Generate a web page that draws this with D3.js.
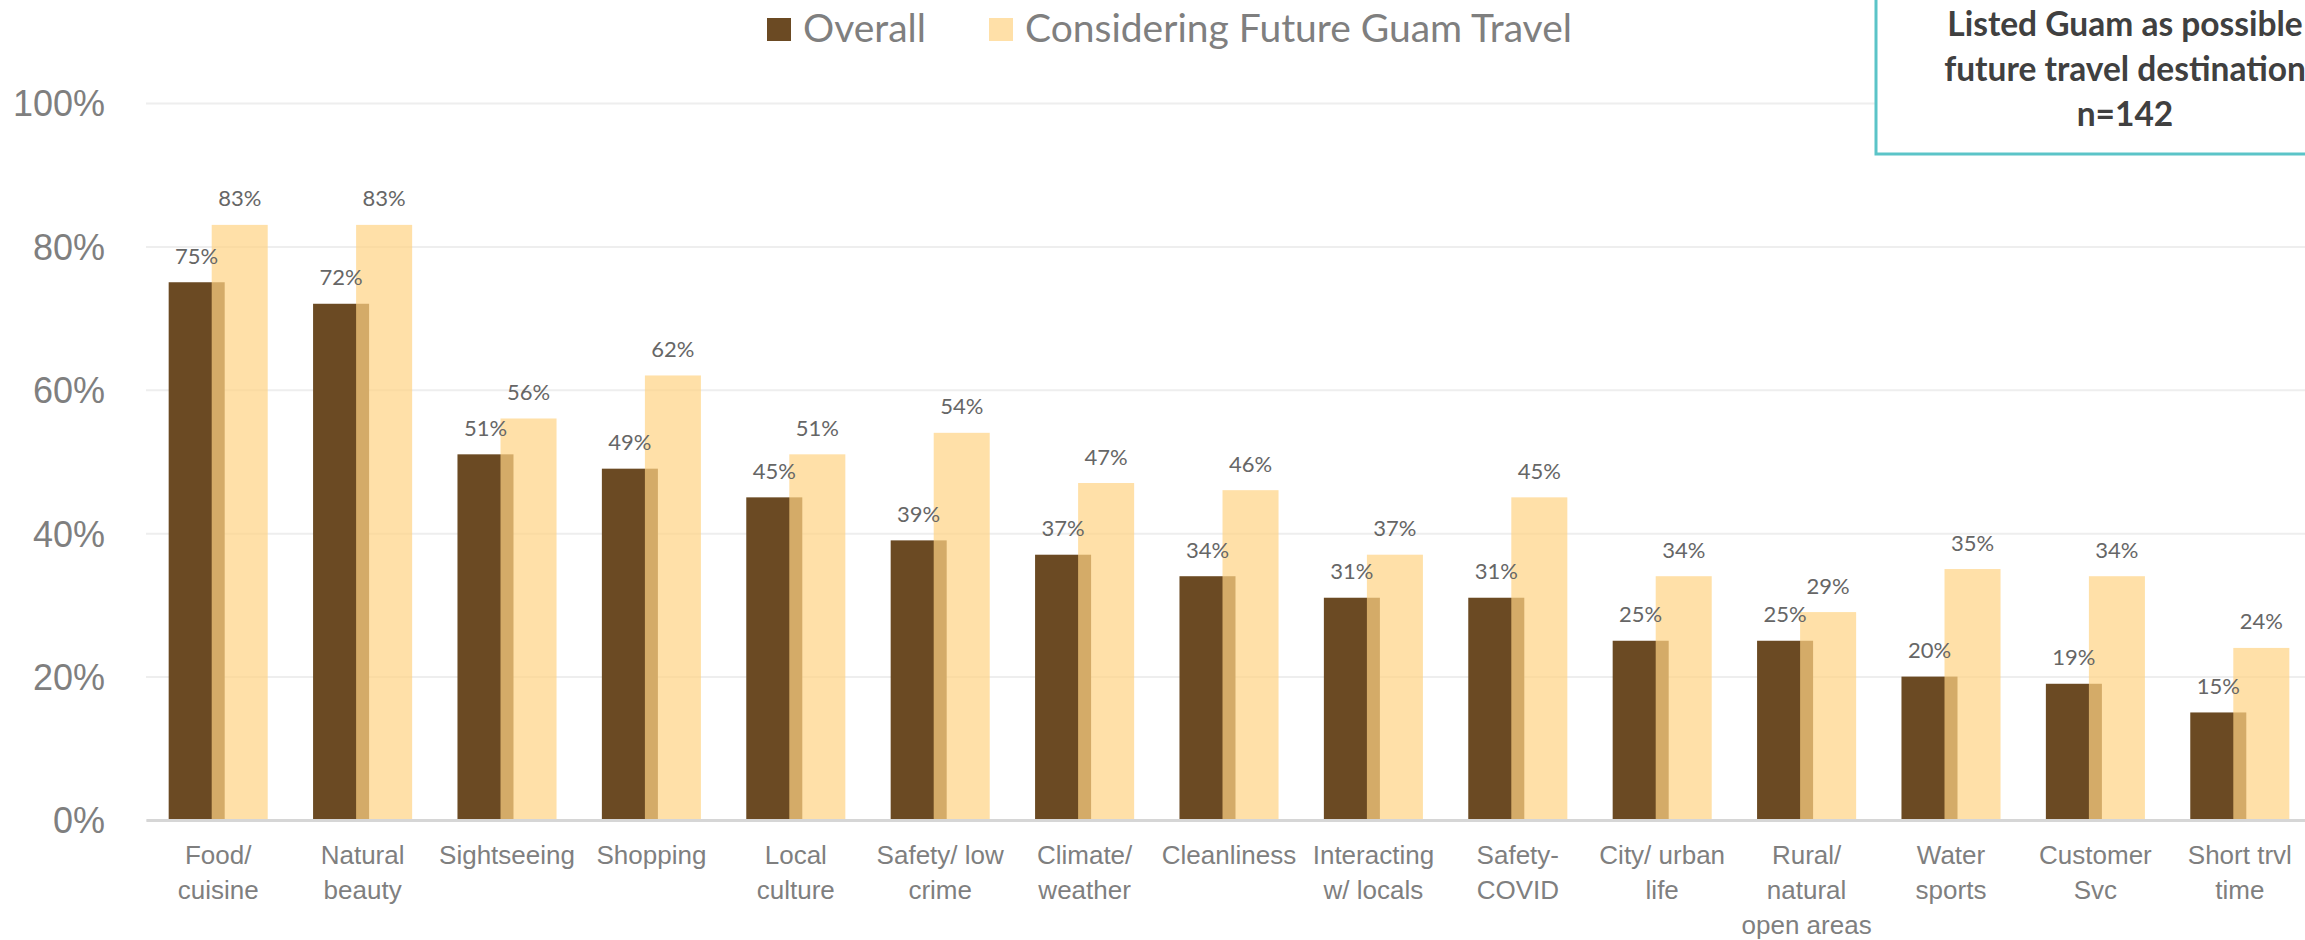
<!DOCTYPE html>
<html>
<head>
<meta charset="utf-8">
<script src="https://cdn.jsdelivr.net/npm/d3@7"></script>
<style>
  html, body { margin: 0; padding: 0; background: #ffffff; }
  svg { display: block; font-family: Lato, "Noto Sans", sans-serif; }
</style>
</head>
<body>
<script>
// Destination attributes (line breaks mark how each axis label wraps)
const categories = [
  "Food/\ncuisine", "Natural\nbeauty", "Sightseeing", "Shopping", "Local\nculture",
  "Safety/ low\ncrime", "Climate/\nweather", "Cleanliness", "Interacting\nw/ locals",
  "Safety-\nCOVID", "City/ urban\nlife", "Rural/\nnatural\nopen areas", "Water\nsports",
  "Customer\nSvc", "Short trvl\ntime"
];
// Share of respondents, all respondents
const overall = [0.75, 0.72, 0.51, 0.49, 0.45, 0.39, 0.37, 0.34, 0.31, 0.31, 0.25, 0.25, 0.20, 0.19, 0.15];
// Share of respondents considering future Guam travel
const future  = [0.83, 0.83, 0.56, 0.62, 0.51, 0.54, 0.47, 0.46, 0.37, 0.45, 0.34, 0.29, 0.35, 0.34, 0.24];
const seriesNames = ["Overall", "Considering Future Guam Travel"];
const yTicks = [0, 0.2, 0.4, 0.6, 0.8, 1.0];
const noteLines = ["Listed Guam as possible", "future travel destination", "n=142"];

const W = 2305, H = 940;
const plotLeft = 146, bandStep = 144.4;
const darkColor = "#6B4A23", lightColor = "#FFD484", lightOpacity = 0.71;
const fmt = d3.format(".0%");

const svg = d3.select("body").append("svg").attr("width", W).attr("height", H);

const x = d3.scaleBand()
  .domain(categories)
  .range([plotLeft, plotLeft + bandStep * categories.length])
  .paddingInner(0).paddingOuter(0);
const y = d3.scaleLinear().domain([0, 1]).range([820, 103]);

const bw = x.bandwidth();
const barW = bw * 0.388;
const darkOff = -bw * 0.343;   // left edge of the overall bar, from band centre
const lightOff = -bw * 0.045;  // left edge of the future-travel bar, overlapping it

// Horizontal gridlines and percentage labels
svg.append("g")
  .attr("transform", `translate(${plotLeft},0)`)
  .attr("font-family", null).attr("font-size", null)
  .call(d3.axisLeft(y).tickValues(yTicks).tickFormat(fmt)
    .tickSize(-(W - plotLeft)).tickPadding(41))
  .call(g => g.select(".domain").remove())
  .call(g => g.selectAll(".tick line").attr("stroke", "#eeeeee").attr("stroke-width", 2))
  .call(g => g.selectAll(".tick text")
    .attr("fill", "#7f7f7f").attr("dy", "0.36em").style("font-size", "36px"));

// Note box in the upper right corner
const note = svg.append("g");
note.append("rect")
  .attr("x", 1876).attr("y", -10).attr("width", 498).attr("height", 164)
  .attr("fill", "#ffffff").attr("stroke", "#5BC4C8").attr("stroke-width", 3);
note.selectAll("text").data(noteLines).join("text")
  .attr("x", 2125).attr("y", (d, i) => 36 + i * 45)
  .attr("text-anchor", "middle")
  .attr("fill", "#404040").style("font-size", "33.5px").style("font-weight", 700)
  .text(d => d);

const rows = categories.map((c, i) => ({ c, o: overall[i], f: future[i] }));

// Overall bars
svg.append("g").selectAll("rect").data(rows).join("rect")
  .attr("x", d => x(d.c) + bw / 2 + darkOff)
  .attr("y", d => y(d.o))
  .attr("width", barW)
  .attr("height", d => y(0) - y(d.o))
  .attr("fill", darkColor);

// Future-travel bars, semi-transparent over the overall bars
svg.append("g").selectAll("rect").data(rows).join("rect")
  .attr("x", d => x(d.c) + bw / 2 + lightOff)
  .attr("y", d => y(d.f))
  .attr("width", barW)
  .attr("height", d => y(0) - y(d.f))
  .attr("fill", lightColor).attr("fill-opacity", lightOpacity);

// Category axis with wrapped labels
svg.append("g")
  .attr("transform", `translate(0,${y(0)})`)
  .attr("font-family", null).attr("font-size", null)
  .call(d3.axisBottom(x).tickSize(0).tickSizeOuter(0))
  .call(g => g.select(".domain").attr("stroke", "#d6d6d6").attr("stroke-width", 3))
  .call(g => g.selectAll(".tick text").each(function (d) {
    const t = d3.select(this).attr("y", 0).attr("dy", null)
      .attr("fill", "#7f7f7f").style("font-size", "26px").text(null);
    d.split("\n").forEach((line, i) => {
      t.append("tspan").attr("x", 0).attr("y", 44 + i * 35).text(line);
    });
  }));

// Value labels
const labels = svg.append("g")
  .attr("text-anchor", "middle").attr("fill", "#666666").style("font-size", "22px");
labels.selectAll("text.o").data(rows).join("text").attr("class", "o")
  .attr("x", d => x(d.c) + bw / 2 + darkOff + barW / 2)
  .attr("y", d => y(d.o) - 18.5)
  .text(d => fmt(d.o));
labels.selectAll("text.f").data(rows).join("text").attr("class", "f")
  .attr("x", d => x(d.c) + bw / 2 + lightOff + barW / 2)
  .attr("y", d => y(d.f) - 18.5)
  .text(d => fmt(d.f));

// Legend
const legendItems = [
  { name: seriesNames[0], fill: darkColor, op: 1, sx: 767, tx: 803 },
  { name: seriesNames[1], fill: lightColor, op: lightOpacity, sx: 989, tx: 1025 }
];
const lg = svg.append("g");
lg.selectAll("rect").data(legendItems).join("rect")
  .attr("x", d => d.sx).attr("y", 18).attr("width", 24).attr("height", 23)
  .attr("fill", d => d.fill).attr("fill-opacity", d => d.op);
lg.selectAll("text").data(legendItems).join("text")
  .attr("x", d => d.tx).attr("y", 42)
  .attr("fill", "#7f7f7f").style("font-size", "39px")
  .text(d => d.name);
</script>
</body>
</html>
